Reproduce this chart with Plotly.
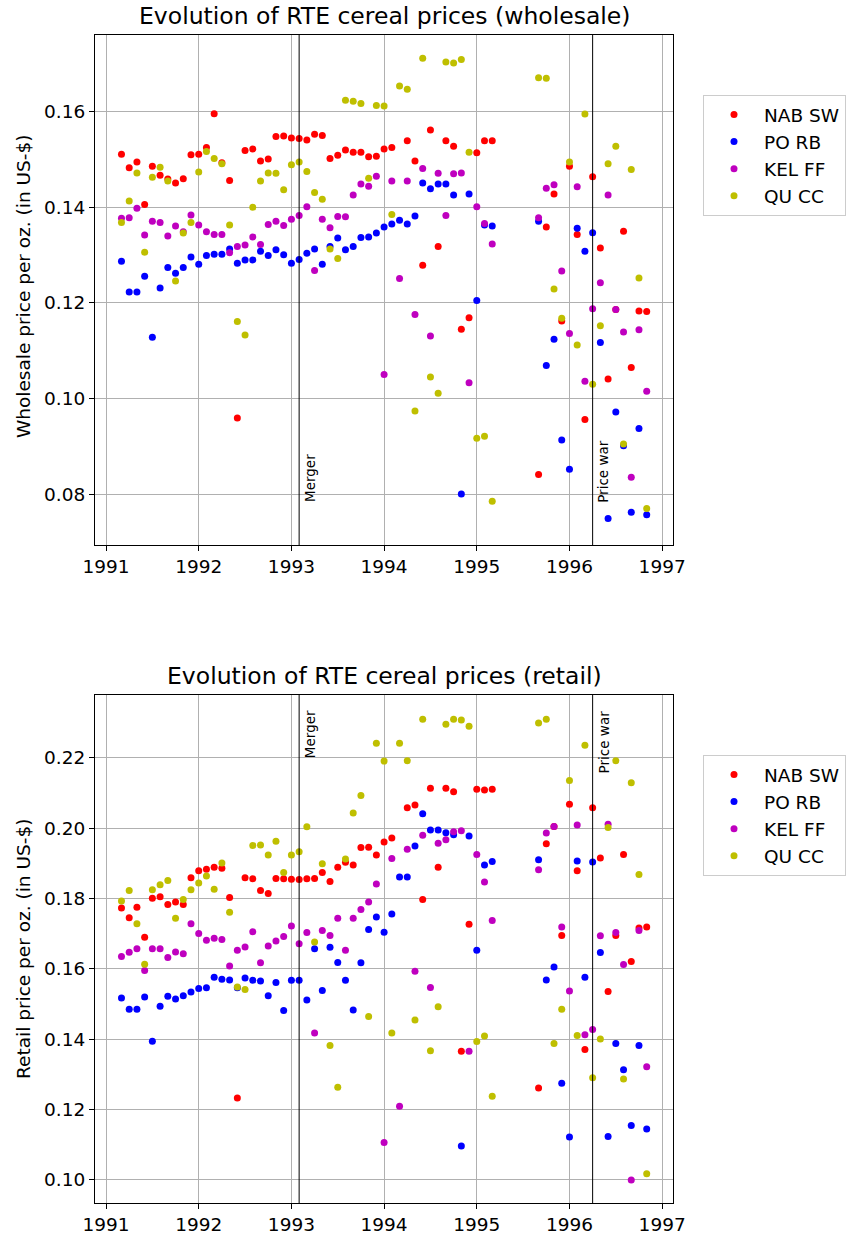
import plotly.graph_objects as go

months = [
    "1991-03", "1991-04", "1991-05", "1991-06", "1991-07", "1991-08", "1991-09", "1991-10", "1991-11", "1991-12",
    "1992-01", "1992-02", "1992-03", "1992-04", "1992-05", "1992-06", "1992-07", "1992-08", "1992-09", "1992-10",
    "1992-11", "1992-12", "1993-01", "1993-02", "1993-03", "1993-04", "1993-05", "1993-06", "1993-07", "1993-08",
    "1993-09", "1993-10", "1993-11", "1993-12", "1994-01", "1994-02", "1994-03", "1994-04", "1994-05", "1994-06",
    "1994-07", "1994-08", "1994-09", "1994-10", "1994-11", "1994-12", "1995-01", "1995-02", "1995-03",
    "1995-09", "1995-10", "1995-11", "1995-12", "1996-01", "1996-02", "1996-03", "1996-04", "1996-05", "1996-06",
    "1996-07", "1996-08", "1996-09", "1996-10", "1996-11",
]

brands = ["NAB SW", "PO RB", "KEL FF", "QU CC"]
colors = ["#ff0000", "#0000ff", "#bf00bf", "#bfbf00"]

ws_nab = [0.1511, 0.1483, 0.1495, 0.1406, 0.1486, 0.1467, 0.1459, 0.1451, 0.1460, 0.1510,
          0.1511, 0.1525, 0.1596, 0.1493, 0.1456, 0.0959, 0.1519, 0.1522, 0.1497, 0.1501,
          0.1548, 0.1549, 0.1545, 0.1544, 0.1541, 0.1553, 0.1550, 0.1502, 0.1509, 0.1520,
          0.1515, 0.1515, 0.1506, 0.1507, 0.1522, 0.1525, None, 0.1539, 0.1497, 0.1279,
          0.1562, 0.1318, 0.1539, 0.1528, 0.1145, 0.1169, 0.1514, 0.1539, 0.1539,
          0.0841, 0.1359, 0.1428, 0.1162, 0.1486, 0.1343, 0.0956, 0.1464, 0.1315, 0.1041,
          0.1186, 0.1350, 0.1065, 0.1183, 0.1182]
ws_po = [0.1287, 0.1223, 0.1223, 0.1256, 0.1128, 0.1231, 0.1274, 0.1262, 0.1274, 0.1296,
         0.1281, 0.1299, 0.1302, 0.1302, 0.1313, 0.1283, 0.1290, 0.1290, 0.1308, 0.1299,
         0.1311, 0.1301, 0.1283, 0.1291, 0.1304, 0.1313, 0.1281, 0.1318, 0.1336, 0.1311,
         0.1318, 0.1337, 0.1338, 0.1346, 0.1359, 0.1365, 0.1373, 0.1365, 0.1382, 0.1451,
         0.1439, 0.1449, 0.1449, 0.1426, 0.0800, 0.1428, 0.1205, 0.1363, 0.1361,
         0.1371, 0.1069, 0.1124, 0.0913, 0.0852, 0.1356, 0.1308, 0.1347, 0.1117, 0.0749,
         0.0972, 0.0901, 0.0762, 0.0937, 0.0757]
ws_kel = [0.1377, 0.1378, 0.1398, 0.1342, 0.1371, 0.1368, 0.1340, 0.1361, 0.1349, 0.1384,
          0.1363, 0.1349, 0.1343, 0.1343, 0.1305, 0.1318, 0.1321, 0.1338, 0.1322, 0.1364,
          0.1371, 0.1362, 0.1375, 0.1383, 0.1401, 0.1268, 0.1375, 0.1357, 0.1381, 0.1380,
          0.1426, 0.1449, 0.1444, 0.1465, 0.1050, 0.1455, 0.1251, 0.1455, 0.1176, 0.1481,
          0.1131, 0.1471, 0.1383, 0.1470, 0.1472, 0.1033, 0.1401, 0.1366, 0.1323,
          0.1378, 0.1440, 0.1447, 0.1267, 0.1136, 0.1443, 0.1036, 0.1188, 0.1242, 0.1426,
          0.1186, 0.1139, 0.0835, 0.1144, 0.1015]
ws_qu = [0.1368, 0.1413, 0.1472, 0.1306, 0.1463, 0.1484, 0.1455, 0.1246, 0.1346, 0.1368,
         0.1474, 0.1517, 0.1502, 0.1491, 0.1363, 0.1161, 0.1133, 0.1400, 0.1455, 0.1472,
         0.1471, 0.1437, 0.1489, 0.1495, 0.1475, 0.1431, 0.1417, 0.1313, 0.1293, 0.1624,
         0.1622, 0.1617, 0.1461, 0.1613, 0.1612, 0.1385, 0.1654, 0.1647, 0.0974, 0.1712,
         0.1045, 0.1011, 0.1704, 0.1702, 0.1709, 0.1515, 0.0917, 0.0921, 0.0785,
         0.1671, 0.1670, 0.1229, 0.1168, 0.1495, 0.1112, 0.1595, 0.1030, 0.1152, 0.1491,
         0.1528, 0.0905, 0.1479, 0.1252, 0.0770]

rt_nab = [0.1773, 0.1745, 0.1775, 0.1690, 0.1801, 0.1805, 0.1783, 0.1790, 0.1783, 0.1859,
          0.1879, 0.1883, 0.1889, 0.1886, 0.1803, 0.1232, 0.1859, 0.1856, 0.1823, 0.1814,
          0.1857, 0.1856, 0.1855, 0.1854, 0.1856, 0.1857, 0.1874, 0.1848, 0.1889, 0.1903,
          0.1895, 0.1945, 0.1946, 0.1924, 0.1961, 0.1972, None, 0.2058, 0.2066, 0.1797,
          0.2114, 0.1889, 0.2114, 0.2104, 0.1365, 0.1727, 0.2111, 0.2109, 0.2111,
          0.1261, 0.1956, 0.2005, 0.1695, 0.2068, 0.1879, 0.1370, 0.2058, 0.1915, 0.1535,
          0.1695, 0.1925, 0.1621, 0.1716, 0.1719]
rt_po = [0.1517, 0.1485, 0.1485, 0.1520, 0.1394, 0.1493, 0.1522, 0.1514, 0.1523, 0.1534,
         0.1544, 0.1546, 0.1576, 0.1570, 0.1568, 0.1546, 0.1574, 0.1567, 0.1565, 0.1523,
         0.1561, 0.1481, 0.1567, 0.1567, 0.1511, 0.1657, 0.1538, 0.1661, 0.1618, 0.1567,
         0.1483, 0.1617, 0.1712, 0.1747, 0.1704, 0.1756, 0.1861, 0.1861, 0.1949, 0.2041,
         0.1995, 0.1995, 0.1987, 0.1981, 0.1096, 0.1978, 0.1653, 0.1895, 0.1905,
         0.1910, 0.1568, 0.1605, 0.1274, 0.1121, 0.1907, 0.1576, 0.1904, 0.1646, 0.1123,
         0.1387, 0.1313, 0.1154, 0.1382, 0.1144]
rt_kel = [0.1635, 0.1647, 0.1657, 0.1595, 0.1657, 0.1657, 0.1632, 0.1648, 0.1643, 0.1728,
          0.1700, 0.1681, 0.1687, 0.1683, 0.1608, 0.1653, 0.1662, 0.1705, 0.1617, 0.1665,
          0.1679, 0.1692, 0.1722, 0.1671, 0.1703, 0.1417, 0.1709, 0.1695, 0.1744, 0.1653,
          0.1744, 0.1769, 0.1790, 0.1841, 0.1106, 0.1914, 0.1209, 0.1940, 0.1593, 0.1980,
          0.1547, 0.1957, 0.1967, 0.1990, 0.1993, 0.1365, 0.1925, 0.1847, 0.1737,
          0.1882, 0.1986, 0.2005, 0.1719, 0.1537, 0.2009, 0.1412, 0.1427, 0.1694, 0.2011,
          0.1703, 0.1612, 0.0999, 0.1709, 0.1321]
rt_qu = [0.1793, 0.1823, 0.1728, 0.1613, 0.1825, 0.1839, 0.1851, 0.1744, 0.1797, 0.1825,
         0.1844, 0.1864, 0.1826, 0.1901, 0.1761, 0.1548, 0.1541, 0.1951, 0.1952, 0.1924,
         0.1963, 0.1874, 0.1924, 0.1933, 0.2004, 0.1676, 0.1899, 0.1382, 0.1263, 0.1912,
         0.2043, 0.2093, 0.1464, 0.2242, 0.2191, 0.1417, 0.2242, 0.2192, 0.1454, 0.2310,
         0.1367, 0.1492, 0.2296, 0.2310, 0.2308, 0.2290, 0.1393, 0.1409, 0.1237,
         0.2299, 0.2310, 0.1387, 0.1485, 0.2136, 0.1410, 0.2236, 0.1290, 0.1400, 0.2002,
         0.2192, 0.1286, 0.2129, 0.1868, 0.1017]

events = ["Merger", "Price war"]
event_dates = ["1993-02", "1996-04"]


def dec(s):
    y, m = s.split("-")
    return int(y) + (int(m) - 1) / 12.0


t = [dec(m) for m in months]
ev_t = [dec(m) for m in event_dates]

W, H = 849, 1237
FONT = "DejaVu Sans"
TICK = 18.5

fig = go.Figure()
ws = [ws_nab, ws_po, ws_kel, ws_qu]
rt = [rt_nab, rt_po, rt_kel, rt_qu]
for i, b in enumerate(brands):
    fig.add_trace(go.Scatter(x=t, y=ws[i], mode="markers", name=b,
                             marker=dict(color=colors[i], size=7, line=dict(width=0)),
                             xaxis="x", yaxis="y", legend="legend", legendgroup="w" + b))
for i, b in enumerate(brands):
    fig.add_trace(go.Scatter(x=t, y=rt[i], mode="markers", name=b,
                             marker=dict(color=colors[i], size=7, line=dict(width=0)),
                             xaxis="x2", yaxis="y2", legend="legend2", legendgroup="r" + b))

xl, xr = 95 / W, 673 / W
top_dom = [1 - 545 / H, 1 - 35 / H]
bot_dom = [1 - 1203 / H, 1 - 695 / H]

ax_common = dict(showline=True, linecolor="black", linewidth=1, mirror=True,
                 ticks="outside", ticklen=5, tickcolor="black", automargin=False,
                 showgrid=True, gridcolor="#b0b0b0", gridwidth=1, zeroline=False,
                 tickfont=dict(family=FONT, size=TICK, color="black"))

leg_common = dict(xanchor="left", yanchor="top", bordercolor="#cccccc", borderwidth=1,
                  bgcolor="white", font=dict(family=FONT, size=TICK), tracegroupgap=0,
                  itemsizing="trace", itemwidth=50)

fig.update_layout(
    width=W, height=H,
    margin=dict(l=0, r=0, t=0, b=0, autoexpand=False),
    paper_bgcolor="white", plot_bgcolor="white",
    font=dict(family=FONT, color="black"),
    xaxis=dict(domain=[xl, xr], anchor="y", range=[1990.881, 1997.117],
               tickvals=[1991, 1992, 1993, 1994, 1995, 1996, 1997], **ax_common),
    yaxis=dict(domain=top_dom, anchor="x", range=[0.06935, 0.17605],
               tickvals=[0.08, 0.10, 0.12, 0.14, 0.16], tickformat=".2f", **ax_common),
    xaxis2=dict(domain=[xl, xr], anchor="y2", range=[1990.881, 1997.117],
                tickvals=[1991, 1992, 1993, 1994, 1995, 1996, 1997], **ax_common),
    yaxis2=dict(domain=bot_dom, anchor="x2", range=[0.09335, 0.2379],
                tickvals=[0.10, 0.12, 0.14, 0.16, 0.18, 0.20, 0.22], tickformat=".2f", **ax_common),
    legend=dict(x=703 / W, y=1 - 95 / H, **leg_common),
    legend2=dict(x=703 / W, y=1 - 755 / H, **leg_common),
)

shapes = []
for xv in ev_t:
    for xa, yr in [("x", "y domain"), ("x2", "y2 domain")]:
        shapes.append(dict(type="line", xref=xa, yref=yr,
                           x0=xv, x1=xv, y0=0, y1=1, line=dict(color="black", width=1)))
fig.update_layout(shapes=shapes)

ann = []
ann.append(dict(text="Evolution of RTE cereal prices (wholesale)", xref="paper", yref="paper",
                x=(xl + xr) / 2, y=1 - 16 / H, xanchor="center", yanchor="middle",
                showarrow=False, font=dict(family=FONT, size=23.5)))
ann.append(dict(text="Evolution of RTE cereal prices (retail)", xref="paper", yref="paper",
                x=(xl + xr) / 2, y=1 - 676 / H, xanchor="center", yanchor="middle",
                showarrow=False, font=dict(family=FONT, size=23.5)))
ann.append(dict(text="Wholesale price per oz. (in US-$)", xref="paper", yref="paper",
                x=23 / W, y=1 - 287 / H, xanchor="center", yanchor="middle", textangle=-90,
                showarrow=False, font=dict(family=FONT, size=TICK)))
ann.append(dict(text="Retail price per oz. (in US-$)", xref="paper", yref="paper",
                x=23 / W, y=1 - 949 / H, xanchor="center", yanchor="middle", textangle=-90,
                showarrow=False, font=dict(family=FONT, size=TICK)))
ev_y_top = [0.0834, 0.0848]
ev_y_bot = [0.2268, 0.2246]
for i, e in enumerate(events):
    ann.append(dict(text=e, x=ev_t[i], y=ev_y_top[i], xref="x", yref="y",
                    xanchor="left", yanchor="middle", textangle=-90, xshift=1,
                    showarrow=False, font=dict(family=FONT, size=13.5)))
    ann.append(dict(text=e, x=ev_t[i], y=ev_y_bot[i], xref="x2", yref="y2",
                    xanchor="left", yanchor="middle", textangle=-90, xshift=1,
                    showarrow=False, font=dict(family=FONT, size=13.5)))
fig.update_layout(annotations=ann)

fig.write_html("out.html", config={"displayModeBar": False},
               post_script="document.body.style.margin='0';")
